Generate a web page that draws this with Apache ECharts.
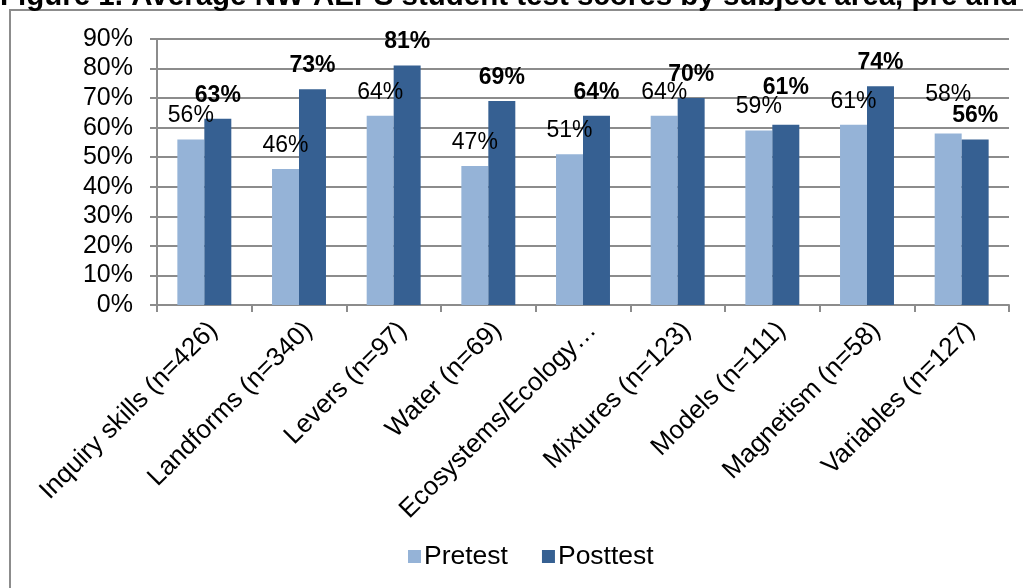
<!DOCTYPE html>
<html>
<head>
<meta charset="utf-8">
<script src="https://cdn.jsdelivr.net/npm/echarts@6/dist/echarts.min.js"></script>
<style>html,body{margin:0;padding:0;background:#fff;}#c{width:1023px;height:588px;}</style>
</head>
<body>
<div id="c"></div>
<script>
const titleText = 'Figure 1. Average NW-AEPS student test scores by subject area, pre and';
const categories = ['Inquiry skills (n=426)', 'Landforms (n=340)', 'Levers (n=97)', 'Water (n=69)', 'Ecosystems/Ecology (n=64)', 'Mixtures (n=123)', 'Models (n=111)', 'Magnetism (n=58)', 'Variables (n=127)'];
const pretest = [56, 46, 64, 47, 51, 64, 59, 61, 58];
const posttest = [63, 73, 81, 69, 64, 70, 61, 74, 56];
const yTicks = {min: 0, max: 90, interval: 10};

const FONT = '"Liberation Sans", Arial, sans-serif';
// labels lifted to avoid overlap (as in the original)
const liftPre = {8: 27};
const liftPost = {6: 26};
function withLift(arr, lift) {
  return arr.map(function (v, i) {
    return lift[i] ? {value: v, label: {distance: lift[i]}} : v;
  });
}

const chart = echarts.init(document.getElementById('c'), null, {renderer: 'canvas'});
chart.setOption({
  animation: false,
  backgroundColor: '#fff',
  graphic: [
    {type: 'rect', shape: {x: 10, y: 10, width: 1100, height: 700}, style: {fill: 'none', stroke: '#8c8c8c', lineWidth: 2}, z: 0},
    {type: 'text', left: 0, top: -18, style: {text: titleText, font: 'bold 29.5px ' + FONT, fill: '#000'}, z: 10}
  ],
  grid: {left: 157, right: 14, top: 39, bottom: 283},
  legend: {
    bottom: 13, left: 403, itemWidth: 13, itemHeight: 13, itemGap: 34,
    icon: 'rect',
    textStyle: {fontFamily: FONT, fontSize: 26.5, color: '#000', padding: [0, 0, 0, -2]},
    data: ['Pretest', 'Posttest']
  },
  xAxis: {
    type: 'category', data: categories,
    axisLine: {lineStyle: {color: '#8c8c8c', width: 2}},
    axisTick: {show: true, length: 7, lineStyle: {color: '#8c8c8c', width: 2}},
    axisLabel: {
      interval: 0, rotate: 45, margin: 12, fontFamily: FONT, fontSize: 26, color: '#000',
      verticalAlign: 'top',
      formatter: function (v) { return v.indexOf('Ecosystems') === 0 ? 'Ecosystems/Ecology…' : v; }
    }
  },
  yAxis: {
    type: 'value', min: yTicks.min, max: yTicks.max, interval: yTicks.interval,
    axisLine: {show: true, lineStyle: {color: '#8c8c8c', width: 2}},
    axisTick: {show: true, length: 7, lineStyle: {color: '#8c8c8c', width: 2}},
    splitLine: {lineStyle: {color: '#8c8c8c', width: 2}},
    axisLabel: {formatter: '{value}%', fontFamily: FONT, fontSize: 25, color: '#000', margin: 24}
  },
  series: [
    {
      name: 'Pretest', type: 'bar', data: withLift(pretest, liftPre), barGap: '0%', barCategoryGap: '43%',
      itemStyle: {color: '#95b3d7'},
      label: {show: true, position: 'top', distance: 12, formatter: '{c}%', fontFamily: FONT, fontSize: 23, color: '#000'}
    },
    {
      name: 'Posttest', type: 'bar', data: withLift(posttest, liftPost), barGap: '0%', barCategoryGap: '43%',
      itemStyle: {color: '#366092'},
      label: {show: true, position: 'top', distance: 12, formatter: '{c}%', fontFamily: FONT, fontSize: 23, fontWeight: 'bold', color: '#000'}
    }
  ]
});
</script>
</body>
</html>
